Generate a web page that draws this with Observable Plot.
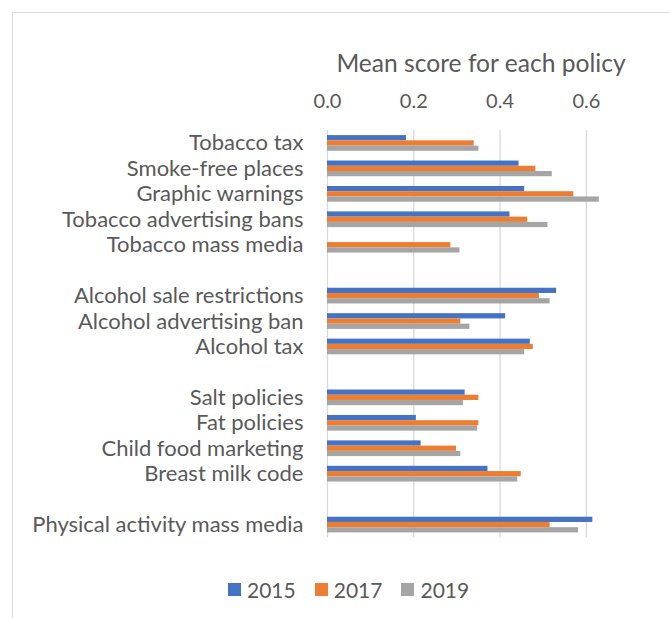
<!DOCTYPE html>
<html>
<head>
<meta charset="utf-8">
<script src="https://cdn.jsdelivr.net/npm/d3@7"></script>
<script src="https://cdn.jsdelivr.net/npm/@observablehq/plot@0.6"></script>
<style>
  html, body { margin: 0; padding: 0; background: #fff; }
  #wrap { position: relative; width: 670px; height: 618px; overflow: hidden; font-family: Lato, sans-serif; color: #595959; }
  #frame { position: absolute; left: 12px; top: 12px; width: 700px; height: 700px; border-left: 1.5px solid #d9d9d9; border-top: 1.5px solid #d9d9d9; }
  #chart { position: absolute; left: 0; top: 0; }
  #legend { position: absolute; left: 228px; top: 577px; display: flex; align-items: center; font-size: 21px; }
  .item { display: flex; align-items: center; margin-right: 19px; }
  .sw { width: 13px; height: 13px; margin-right: 6px; }
</style>
</head>
<body>
<div id="wrap">
  <div id="frame"></div>
  <div id="chart"></div>
  <div id="legend"></div>
</div>
<script>
const categories = [
  "Tobacco tax", "Smoke-free places", "Graphic warnings", "Tobacco advertising bans", "Tobacco mass media",
  "Alcohol sale restrictions", "Alcohol advertising ban", "Alcohol tax",
  "Salt policies", "Fat policies", "Child food marketing", "Breast milk code",
  "Physical activity mass media"
];
const rowOrder = [
  "Tobacco tax", "Smoke-free places", "Graphic warnings", "Tobacco advertising bans", "Tobacco mass media", "gap1",
  "Alcohol sale restrictions", "Alcohol advertising ban", "Alcohol tax", "gap2",
  "Salt policies", "Fat policies", "Child food marketing", "Breast milk code", "gap3",
  "Physical activity mass media"
];
const years = ["2015", "2017", "2019"];
const colors = ["#4472C4", "#ED7D31", "#A5A5A5"];
const v2015 = [0.183, 0.444, 0.457, 0.423, null, 0.531, 0.413, 0.470, 0.319, 0.206, 0.217, 0.372, 0.615];
const v2017 = [0.340, 0.483, 0.571, 0.464, 0.286, 0.491, 0.309, 0.477, 0.351, 0.351, 0.299, 0.449, 0.516];
const v2019 = [0.351, 0.521, 0.630, 0.511, 0.307, 0.516, 0.330, 0.457, 0.315, 0.348, 0.309, 0.441, 0.582];
const xTicks = [0, 0.2, 0.4, 0.6];
const axisTitle = "Mean score for each policy";

const series = [v2015, v2017, v2019];
const insets = [[0, 10.47], [5.23, 5.23], [10.47, 0]];
const barMarks = series.map((vals, i) =>
  Plot.barX(
    categories.map((c, j) => ({category: c, value: vals[j]})).filter(d => d.value != null),
    {y: "category", x: "value", fill: colors[i], insetTop: insets[i][0], insetBottom: insets[i][1]}
  )
);

const chart = Plot.plot({
  width: 670,
  height: 560,
  marginLeft: 327,
  marginRight: 41,
  marginTop: 130,
  marginBottom: 22.5,
  style: {fontFamily: "Lato, sans-serif", fontSize: "20px", color: "#595959", background: "transparent"},
  x: {domain: [0, 0.7], axis: null},
  y: {domain: rowOrder, paddingInner: 0.383, paddingOuter: 0.2, round: false, axis: null},
  marks: [
    Plot.gridX(xTicks, {stroke: "#d9d9d9", strokeOpacity: 1, strokeWidth: 1.3}),
    ...barMarks,
    Plot.axisX({anchor: "top", ticks: xTicks, tickSize: 0, tickPadding: 23, tickFormat: d3.format(".1f"), fontSize: 20, fill: "#595959", label: null}),
    Plot.axisY({anchor: "left", tickSize: 0, tickPadding: 24, fontSize: 22, fill: "#595959", label: null,
      tickFormat: d => d.startsWith("gap") ? "" : d}),
    Plot.text([axisTitle], {frameAnchor: "top", lineAnchor: "middle", dx: 2.5, dy: -66, fontSize: 24.6, fill: "#595959"})
  ]
});
document.getElementById("chart").appendChild(chart);

const legend = document.getElementById("legend");
years.forEach((y, i) => {
  const item = document.createElement("div");
  item.className = "item";
  const sw = document.createElement("div");
  sw.className = "sw";
  sw.style.background = colors[i];
  const t = document.createElement("span");
  t.textContent = y;
  item.appendChild(sw);
  item.appendChild(t);
  legend.appendChild(item);
});
</script>
</body>
</html>
